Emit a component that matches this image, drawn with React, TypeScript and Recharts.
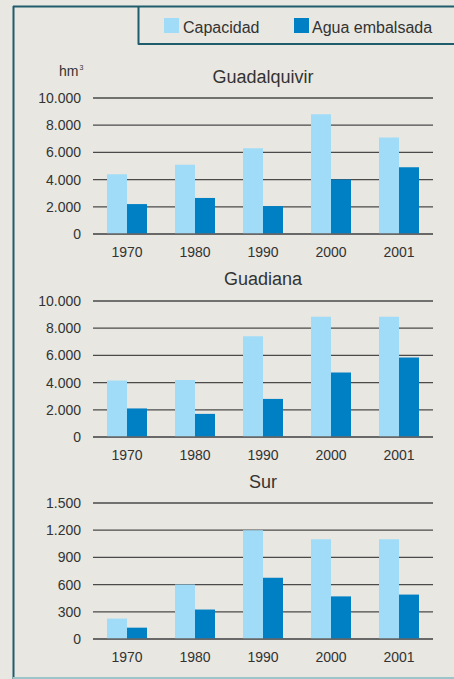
import React from "react";
import { BarChart, Bar, XAxis, YAxis, CartesianGrid } from "recharts";

const years = ["1970", "1980", "1990", "2000", "2001"];
const guadalquivirCapacidad = [4400, 5100, 6300, 8800, 7100];
const guadalquivirAgua = [2200, 2650, 2050, 4000, 4900];
const guadianaCapacidad = [4150, 4200, 7400, 8850, 8850];
const guadianaAgua = [2100, 1700, 2800, 4750, 5850];
const surCapacidad = [225, 600, 1200, 1100, 1100];
const surAgua = [125, 325, 675, 470, 490];
const bigTicks = [0, 2000, 4000, 6000, 8000, 10000];
const surTicks = [0, 300, 600, 900, 1200, 1500];

const LIGHT = "#a0dcf7";
const DARK = "#0080c4";
const BG = "#e8e7e1";
const BORDER = "#1f5d6c";
const FONT = "'Liberation Sans', Arial, sans-serif";
const TEXT = "#333";

const fmt = (v: number) => v.toLocaleString("de-DE");

function build(cap: number[], agua: number[]) {
  return years.map((y, i) => ({ year: y, capacidad: cap[i], agua: agua[i] }));
}

function Panel({ top, data, ticks, max }: { top: number; data: any[]; ticks: number[]; max: number }) {
  return (
    <div style={{ position: "absolute", left: 0, top }}>
      <BarChart
        width={454}
        height={174}
        data={data}
        margin={{ top: 8, right: 21, left: 0, bottom: 0 }}
        barGap={0}
        barSize={20}
      >
        <CartesianGrid vertical={false} stroke="#4a4a4a" strokeWidth={1.3} />
        <XAxis
          dataKey="year"
          height={30}
          tickLine={false}
          tickSize={0}
          tickMargin={13}
          axisLine={{ stroke: "#666", strokeWidth: 1.5 }}
          tick={{ fill: TEXT, fontSize: 14, fontFamily: FONT }}
        />
        <YAxis
          width={93}
          domain={[0, max]}
          ticks={ticks}
          interval={0}
          tickFormatter={fmt}
          axisLine={false}
          tickLine={false}
          tickSize={0}
          tickMargin={12}
          tick={{ fill: TEXT, fontSize: 14, fontFamily: FONT }}
        />
        <Bar dataKey="capacidad" fill={LIGHT} isAnimationActive={false} />
        <Bar dataKey="agua" fill={DARK} isAnimationActive={false} />
      </BarChart>
    </div>
  );
}

export default function App() {
  return (
    <div style={{ position: "absolute", left: 0, top: 0, width: 454, height: 679, background: BG, overflow: "hidden" }}>
      <svg width={454} height={679} style={{ position: "absolute", left: 0, top: 0 }}>
        <line x1={13} y1={6.5} x2={454} y2={6.5} stroke={BORDER} strokeWidth={2} />
        <line x1={13.5} y1={6} x2={13.5} y2={679} stroke={BORDER} strokeWidth={2} />
        <line x1={13} y1={678} x2={454} y2={678} stroke="#9cc5c9" strokeWidth={2} />
        <line x1={138.5} y1={6} x2={138.5} y2={44.5} stroke={BORDER} strokeWidth={2} />
        <line x1={138} y1={44} x2={454} y2={44} stroke={BORDER} strokeWidth={2} />
        <rect x={164} y={18} width={15} height={15} fill={LIGHT} />
        <text x={183} y={32.5} fontSize={16} fontFamily={FONT} fill={TEXT}>Capacidad</text>
        <rect x={294} y={18} width={15} height={15} fill={DARK} />
        <text x={312} y={32.5} fontSize={16} fontFamily={FONT} fill={TEXT}>Agua embalsada</text>
        <text x={59} y={76} fontSize={14} fontFamily={FONT} fill={TEXT}>hm</text>
        <text x={79.5} y={70} fontSize={7} fontFamily={FONT} fill={TEXT}>3</text>
        <text x={263} y={83} fontSize={18} fontFamily={FONT} fill={TEXT} textAnchor="middle">Guadalquivir</text>
        <text x={263} y={285} fontSize={18} fontFamily={FONT} fill={TEXT} textAnchor="middle">Guadiana</text>
        <text x={263} y={488} fontSize={18} fontFamily={FONT} fill={TEXT} textAnchor="middle">Sur</text>
      </svg>
      <Panel top={90} data={build(guadalquivirCapacidad, guadalquivirAgua)} ticks={bigTicks} max={10000} />
      <Panel top={293} data={build(guadianaCapacidad, guadianaAgua)} ticks={bigTicks} max={10000} />
      <Panel top={495} data={build(surCapacidad, surAgua)} ticks={surTicks} max={1500} />
    </div>
  );
}
